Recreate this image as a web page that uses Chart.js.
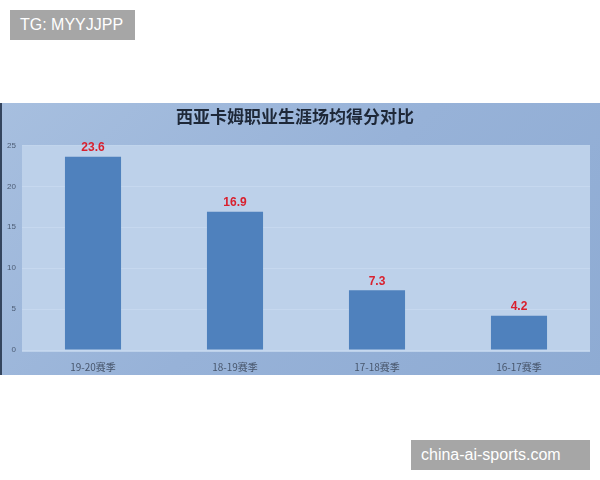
<!DOCTYPE html>
<html><head><meta charset="utf-8">
<script src="https://cdn.jsdelivr.net/npm/chart.js@4/dist/chart.umd.min.js"></script>
<style>
html,body{margin:0;padding:0;background:#fff;width:600px;height:480px;overflow:hidden;font-family:"Noto Sans CJK SC","Noto Sans",sans-serif;}
#wrap{position:absolute;left:0;top:103px;width:600px;height:272px;background:linear-gradient(135deg,#a7bfdf 0%,#97b2d8 50%,#8eabd3 100%);}
#wrap:before{content:"";position:absolute;left:0;top:0;width:2px;height:100%;background:#34455e;}
.wm{position:absolute;background:#a6a6a6;color:#fff;font-family:"Liberation Sans",Arial,sans-serif;font-size:16px;line-height:30px;padding:0 10px;}
</style></head>
<body>
<div id="wrap"><canvas id="c" width="600" height="272"></canvas></div>
<div class="wm" style="left:10px;top:10px;width:105px;">TG: MYYJJPP</div>
<div class="wm" style="left:411px;top:440px;width:159px;">china-ai-sports.com</div>
<script>
const categories = ["19-20赛季", "18-19赛季", "17-18赛季", "16-17赛季"];
const points = [23.6, 16.9, 7.3, 4.2];
const yTicks = [0, 5, 10, 15, 20, 25];
const titleText = "西亚卡姆职业生涯场均得分对比";

const plotBg = {
  id: 'plotBg',
  beforeDraw(chart) {
    const {ctx, chartArea: a} = chart;
    ctx.save();
    ctx.fillStyle = '#bdd1ea';
    ctx.fillRect(a.left, a.top, a.right - a.left, a.bottom - a.top + 2);
    ctx.restore();
  }
};
const valueLabels = {
  id: 'valueLabels',
  afterDatasetsDraw(chart) {
    const {ctx} = chart;
    const meta = chart.getDatasetMeta(0);
    ctx.save();
    ctx.fillStyle = '#d9202e';
    ctx.font = 'bold 12px "Liberation Sans", Arial, sans-serif';
    ctx.textAlign = 'center';
    ctx.textBaseline = 'bottom';
    meta.data.forEach((bar, i) => {
      ctx.fillText(points[i].toFixed(1), bar.x, bar.y - 3);
    });
    ctx.restore();
  }
};

new Chart(document.getElementById('c'), {
  type: 'bar',
  data: {
    labels: categories,
    datasets: [{
      data: points,
      backgroundColor: '#4f81bd',
      borderWidth: 0,
      categoryPercentage: 1,
      barPercentage: 0.395
    }]
  },
  options: {
    responsive: false,
    animation: false,
    layout: {padding: {left: 0, right: 10, top: 0, bottom: 0}},
    plugins: {
      legend: {display: false},
      tooltip: {enabled: false},
      title: {
        display: true,
        text: titleText,
        color: '#1e2838',
        font: {family: '"Noto Sans CJK SC", serif', size: 17, weight: 'bold'},
        padding: {top: 3, bottom: 19}
      }
    },
    scales: {
      x: {
        grid: {display: false},
        border: {display: false},
        ticks: {color: '#48566c', font: {size: 10, family: '"Noto Sans CJK SC", sans-serif'}, padding: 3},
        afterFit(s) { s.height = 25; }
      },
      y: {
        min: 0, max: 25,
        afterBuildTicks(s) { s.ticks = yTicks.map(v => ({value: v})); },
        grid: {color: 'rgba(205,222,242,0.55)', lineWidth: 1, drawTicks: false},
        border: {display: false},
        ticks: {color: '#4c5c74', font: {size: 8, family: '"Liberation Sans", Arial, sans-serif'}, padding: 6},
        afterFit(s) { s.width = 22; }
      }
    }
  },
  plugins: [plotBg, valueLabels]
});
</script>
</body></html>
